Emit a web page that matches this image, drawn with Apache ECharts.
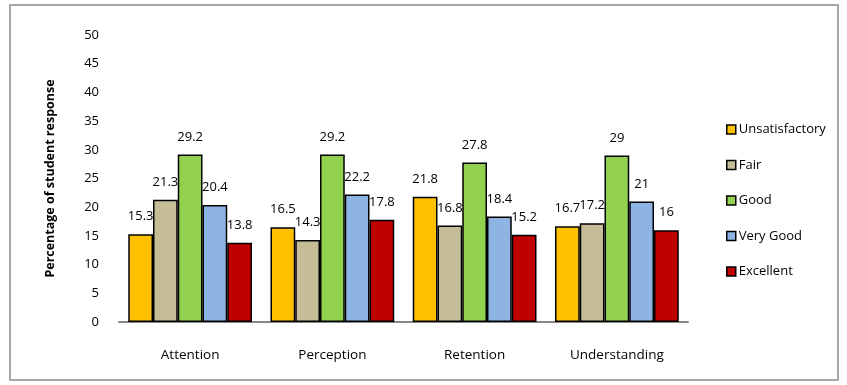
<!DOCTYPE html>
<html>
<head>
    <meta charset="utf-8">
    <title>ECharts</title>
    <script src="https://cdn.jsdelivr.net/npm/echarts@6/dist/echarts.min.js"></script>
    <style>
        *{margin: 0;padding: 0;}
    </style>
</head>
<body>
    <div id="main" style="width: 847px;height:385px;"></div>
    <script type="text/javascript">
        // data
        var categories = ['Attention', 'Perception', 'Retention', 'Understanding'];
        var seriesNames = ['Unsatisfactory', 'Fair', 'Good', 'Very Good', 'Excellent'];
        var unsatisfactory = [15.3, 16.5, 21.8, 16.7];
        var fair = [21.3, 14.3, 16.8, 17.2];
        var good = [29.2, 29.2, 27.8, 29];
        var veryGood = [20.4, 22.2, 18.4, 21];
        var excellent = [13.8, 17.8, 15.2, 16];
        var yTicks = [0, 5, 10, 15, 20, 25, 30, 35, 40, 45, 50];

        var colors = ['#FFC000', '#C4BD97', '#92D050', '#8DB4E2', '#C00000'];
        var values = [unsatisfactory, fair, good, veryGood, excellent];
        var font = 'Open Sans';

        var myChart = echarts.init(document.getElementById('main'));

        var series = seriesNames.map(function (name, i) {
            return {
                name: name,
                type: 'bar',
                barGap: 0,
                barCategoryGap: '13%',
                data: values[i],
                itemStyle: {
                    color: colors[i],
                    borderColor: '#000',
                    borderWidth: 1.5
                },
                label: {
                    show: true,
                    position: 'top',
                    distance: 11,
                    color: '#000',
                    fontFamily: font,
                    fontSize: 13
                }
            };
        });

        option = {
            animation: false,
            backgroundColor: '#fff',
            graphic: [{
                type: 'rect',
                shape: {x: 10, y: 5, width: 828, height: 375},
                style: {fill: 'none', stroke: '#A6A6A6', lineWidth: 2}
            }],
            grid: {left: 119, right: 159, top: 35, bottom: 63},
            legend: {
                orient: 'vertical',
                left: 721,
                top: 118,
                icon: 'rect',
                itemWidth: 9,
                itemHeight: 9,
                itemGap: 22.5,
                data: seriesNames,
                itemStyle: {borderColor: '#000', borderWidth: 1.5},
                textStyle: {fontFamily: font, fontSize: 13, color: '#000', padding: [0, 0, 0, -2]}
            },
            xAxis: {
                type: 'category',
                data: categories,
                axisLine: {lineStyle: {color: '#888', width: 2}},
                axisTick: {show: false},
                axisLabel: {color: '#000', fontFamily: font, fontSize: 13.5, margin: 26}
            },
            yAxis: {
                type: 'value',
                min: yTicks[0],
                max: yTicks[yTicks.length - 1],
                interval: 5,
                name: 'Percentage of student response',
                nameLocation: 'middle',
                nameGap: 62,
                nameTextStyle: {fontFamily: font, fontSize: 12.5, fontWeight: 'bold', color: '#000'},
                axisLine: {show: false},
                axisTick: {show: false},
                splitLine: {show: false},
                axisLabel: {color: '#000', fontFamily: font, fontSize: 13, margin: 20}
            },
            series: series
        };

        myChart.setOption(option);
    </script>
</body>
</html>
